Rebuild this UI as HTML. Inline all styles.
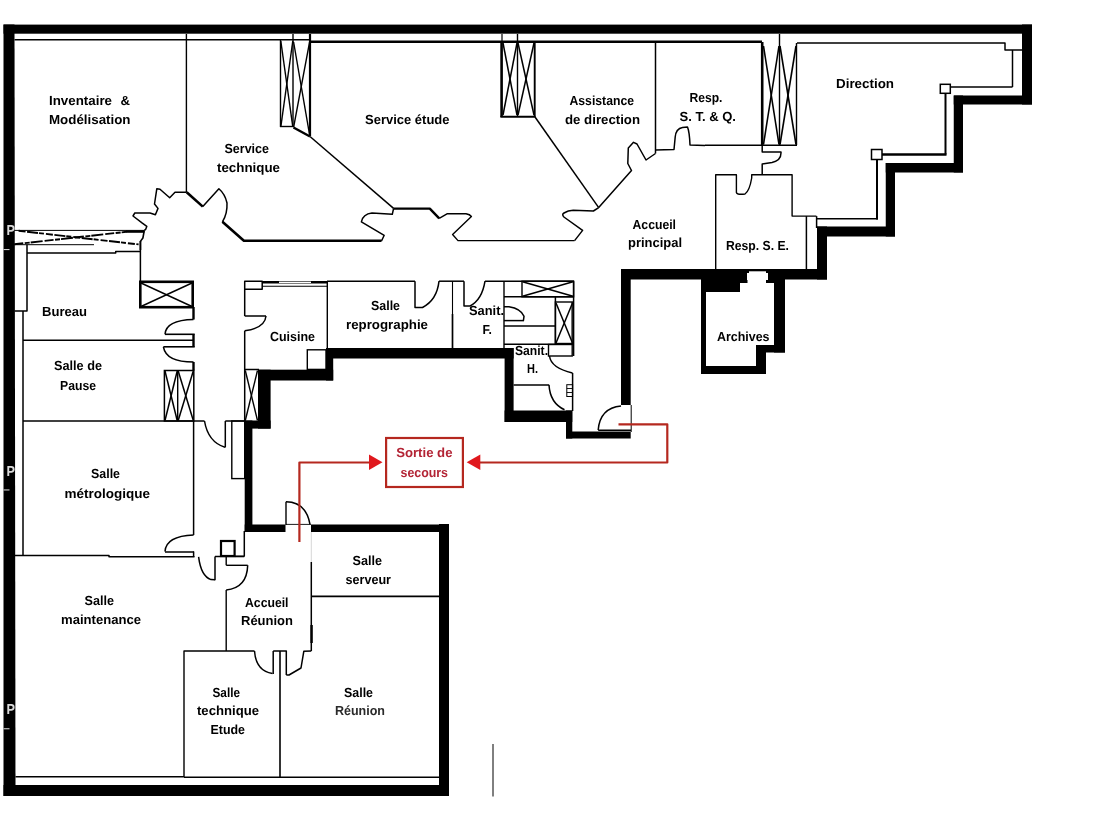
<!DOCTYPE html>
<html><head><meta charset="utf-8"><title>Plan</title>
<style>
html,body{margin:0;padding:0;background:#fff;}
body{width:1119px;height:839px;overflow:hidden;font-family:"Liberation Sans",sans-serif;}
svg{display:block;will-change:transform;}
</style></head><body>
<svg width="1119" height="839" viewBox="0 0 1119 839">
<g id="walls">
<polygon points="3.5,24.5 14.5,24.5 15.5,796 3.5,796" fill="#000"/>
<rect x="3.5" y="24.6" width="1028.5" height="9.1" fill="#000"/>
<rect x="3.5" y="785" width="445.5" height="11" fill="#000"/>
<rect x="439" y="524" width="10" height="272" fill="#000"/>
<rect x="244.7" y="524.5" width="40.8" height="7.5" fill="#000"/>
<rect x="311" y="524.5" width="138" height="7.5" fill="#000"/>
<rect x="244.7" y="420.5" width="7.7" height="111.5" fill="#000"/>
<rect x="244.7" y="420.5" width="25.9" height="8.1" fill="#000"/>
<rect x="258" y="369.7" width="12.6" height="58.9" fill="#000"/>
<rect x="258" y="369.7" width="75.2" height="10.8" fill="#000"/>
<rect x="326" y="348" width="7.2" height="32.5" fill="#000"/>
<rect x="326" y="348" width="187.6" height="10.5" fill="#000"/>
<rect x="504.6" y="348" width="9.0" height="74" fill="#000"/>
<rect x="504.6" y="410.5" width="67.7" height="11.5" fill="#000"/>
<rect x="566" y="410.5" width="6.3" height="28.0" fill="#000"/>
<rect x="566" y="431.5" width="64.7" height="7.0" fill="#000"/>
<rect x="621" y="269" width="9.7" height="136" fill="#000"/>
<rect x="621" y="269" width="206" height="10.5" fill="#000"/>
<rect x="817" y="226.5" width="10" height="53.0" fill="#000"/>
<rect x="817" y="226.5" width="78" height="10.0" fill="#000"/>
<rect x="885.75" y="163" width="9.25" height="73.5" fill="#000"/>
<rect x="885.75" y="163" width="77.25" height="9.5" fill="#000"/>
<rect x="953.75" y="95.5" width="9.25" height="77.0" fill="#000"/>
<rect x="953.75" y="95.5" width="78.25" height="9.0" fill="#000"/>
<rect x="1022" y="24.5" width="10" height="80.0" fill="#000"/>
<rect x="701" y="279" width="39" height="13" fill="#000"/>
<rect x="740" y="279" width="7.5" height="4" fill="#000"/>
<rect x="701" y="279" width="5" height="95" fill="#000"/>
<rect x="701" y="366" width="65" height="8" fill="#000"/>
<rect x="756" y="345" width="10" height="29" fill="#000"/>
<rect x="756" y="345" width="29" height="7.5" fill="#000"/>
<rect x="774" y="279" width="11" height="73.5" fill="#000"/>
<rect x="766" y="279" width="8" height="4" fill="#000"/>
<rect x="749" y="271.3" width="17" height="8.7" fill="#fff"/>
<rect x="747" y="273" width="21" height="7" fill="#fff"/>
</g>
<g id="thin">
<line x1="14.5" y1="39.8" x2="310" y2="39.8" stroke="#000" stroke-width="1.6"/>
<line x1="310" y1="41.7" x2="762" y2="41.7" stroke="#000" stroke-width="2.5"/>
<polyline points="797,43 1005,43 1005,50 1022,50" fill="none" stroke="#000" stroke-width="1.5" stroke-linejoin="round" />
<line x1="1012.5" y1="50" x2="1012.5" y2="87" stroke="#000" stroke-width="1.5"/>
<line x1="950" y1="87" x2="1012.5" y2="87" stroke="#000" stroke-width="1.5"/>
<rect x="940.3" y="84.3" width="10" height="9" fill="#fff" stroke="#000" stroke-width="1.5"/>
<line x1="945.5" y1="93" x2="945.5" y2="154.5" stroke="#000" stroke-width="2"/>
<line x1="882" y1="154.5" x2="946.5" y2="154.5" stroke="#000" stroke-width="2.4"/>
<rect x="871.5" y="149.5" width="10.5" height="10" fill="#fff" stroke="#000" stroke-width="1.5"/>
<line x1="877" y1="159.5" x2="877" y2="219.6" stroke="#000" stroke-width="2"/>
<line x1="816.4" y1="218.8" x2="878" y2="218.8" stroke="#000" stroke-width="1.4"/>
<line x1="186.4" y1="34" x2="186.4" y2="192.3" stroke="#000" stroke-width="1.4"/>
<line x1="280.5" y1="40" x2="280.5" y2="127" stroke="#000" stroke-width="1.4"/>
<line x1="293" y1="34" x2="293" y2="127" stroke="#000" stroke-width="1.4"/>
<line x1="310" y1="34" x2="310" y2="136" stroke="#000" stroke-width="2.2"/>
<line x1="280" y1="126.5" x2="293" y2="126.5" stroke="#000" stroke-width="1.4"/>
<line x1="280.8" y1="41" x2="292.8" y2="126.8" stroke="#000" stroke-width="1.4"/>
<line x1="292.8" y1="41" x2="280.8" y2="126.8" stroke="#000" stroke-width="1.4"/>
<line x1="293.6" y1="42" x2="309.6" y2="135" stroke="#000" stroke-width="1.4"/>
<line x1="309.6" y1="42" x2="293.6" y2="127.3" stroke="#000" stroke-width="1.4"/>
<polyline points="293.5,127.5 310,136.5" fill="none" stroke="#000" stroke-width="2.4" stroke-linejoin="round" />
<polyline points="310,136.5 393.6,208.4" fill="none" stroke="#000" stroke-width="1.5" stroke-linejoin="round" />
<line x1="501.6" y1="41.7" x2="501.6" y2="117" stroke="#000" stroke-width="2.6"/>
<line x1="502" y1="34" x2="502" y2="41" stroke="#000" stroke-width="1.2"/>
<line x1="517.5" y1="34" x2="517.5" y2="116" stroke="#000" stroke-width="1.4"/>
<line x1="534.7" y1="41.7" x2="534.7" y2="117" stroke="#000" stroke-width="1.9"/>
<line x1="500.4" y1="116.7" x2="535.5" y2="116.7" stroke="#000" stroke-width="2.0"/>
<line x1="503" y1="43" x2="517" y2="115" stroke="#000" stroke-width="1.5"/>
<line x1="517" y1="43" x2="503" y2="115" stroke="#000" stroke-width="1.5"/>
<line x1="518" y1="43" x2="534" y2="115" stroke="#000" stroke-width="1.5"/>
<line x1="534" y1="43" x2="518" y2="115" stroke="#000" stroke-width="1.5"/>
<polyline points="535,117 598.7,207.6" fill="none" stroke="#000" stroke-width="1.5" stroke-linejoin="round" />
<line x1="762.2" y1="42" x2="762.2" y2="145.5" stroke="#000" stroke-width="2.6"/>
<line x1="779.5" y1="34" x2="779.5" y2="145" stroke="#000" stroke-width="1.4"/>
<line x1="796.5" y1="43" x2="796.5" y2="145" stroke="#000" stroke-width="1.4"/>
<line x1="763.5" y1="46" x2="779" y2="144.5" stroke="#000" stroke-width="1.6"/>
<line x1="779" y1="46" x2="763.5" y2="144.5" stroke="#000" stroke-width="1.6"/>
<line x1="780" y1="46" x2="796" y2="144.5" stroke="#000" stroke-width="1.6"/>
<line x1="796" y1="46" x2="780" y2="144.5" stroke="#000" stroke-width="1.6"/>
<line x1="705" y1="145.2" x2="797" y2="145.2" stroke="#000" stroke-width="1.4"/>
<line x1="655.5" y1="43" x2="655.5" y2="153.5" stroke="#000" stroke-width="1.5"/>
<path d="M655.5,150 L674,149.5 L675.2,137 Q676,128.5 682.5,127.5 L687.5,127 Q689.5,132 690,145 L705,145.5" fill="none" stroke="#000" stroke-width="1.5" stroke-linejoin="round"/>
<polyline points="598.7,207.6 631.5,170.5 627.8,163.5 628.3,148 633.5,142.3 637,144 646,160 655.5,153.5" fill="none" stroke="#000" stroke-width="1.5" stroke-linejoin="round" />
<path d="M762.2,145 L762.2,152 L781,152 Q781.5,160.5 772,162.5 L762.2,164 L762.2,174.7" fill="none" stroke="#000" stroke-width="1.5" stroke-linejoin="round"/>
<path d="M715.7,269 L715.7,174.7 L736.4,174.7 L736.4,192.5 Q737,195 745,194 Q749.5,191 751.7,178 L751.7,174.7 L792.1,174.7 L792.1,216.1 L816.4,216.1" fill="none" stroke="#000" stroke-width="1.4" stroke-linejoin="round"/>
<line x1="806.4" y1="216.1" x2="806.4" y2="269" stroke="#000" stroke-width="1.5"/>
<line x1="816.6" y1="216.1" x2="816.6" y2="228" stroke="#000" stroke-width="1.5"/>
<polyline points="144.3,230.4 145.7,229.3 146.8,226.4 142,222.9 133,216 134.8,213 150,213 155.4,214.7 158,208.4 154.5,204 156.8,188.8 160,189.3 169.7,197.7 175,192.3 186.7,192.3" fill="none" stroke="#000" stroke-width="1.5" stroke-linejoin="round" />
<polyline points="186.7,192.3 202.8,206.6" fill="none" stroke="#000" stroke-width="2.6" stroke-linejoin="round" />
<path d="M202.8,206.6 L218.9,188.8 Q225,194 227,203 Q227.5,214 222.4,221.8" fill="none" stroke="#000" stroke-width="1.5" stroke-linejoin="round"/>
<polyline points="222.4,221.8 243.9,240.8 381.5,240.8" fill="none" stroke="#000" stroke-width="2.6" stroke-linejoin="round" />
<path d="M381.5,241 L384.2,235.3 L361.4,221.8 Q363,214 372,213 L392.3,214.3 L393.6,208.4" fill="none" stroke="#000" stroke-width="1.5" stroke-linejoin="round"/>
<polyline points="393.6,208.6 429.8,208.6 439.2,218.4" fill="none" stroke="#000" stroke-width="2.4" stroke-linejoin="round" />
<path d="M439.2,218.4 L447,213.8 L466,213.8 Q470,214.5 471.4,216.5 L452.6,234.5 L458,240.6 L574.6,240.6" fill="none" stroke="#000" stroke-width="1.4" stroke-linejoin="round"/>
<path d="M574.6,240.6 L582.6,230.4 L563.9,217 Q561.5,214.5 564,213 Q568,210.5 573.2,210.3 L593.4,211 L598.7,207.6" fill="none" stroke="#000" stroke-width="1.5" stroke-linejoin="round"/>
<line x1="14.3" y1="230.4" x2="144.3" y2="230.4" stroke="#000" stroke-width="1.0"/>
<line x1="14.3" y1="244.3" x2="126.4" y2="231.8" stroke="#000" stroke-width="1.9" stroke-dasharray="9 1.5 5 1 12 2"/>
<line x1="126" y1="231.6" x2="144.3" y2="231.6" stroke="#000" stroke-width="2.4"/>
<line x1="18.6" y1="230.8" x2="138.6" y2="244.4" stroke="#000" stroke-width="1.9" stroke-dasharray="7 1.5 11 1 5 2"/>
<line x1="14.3" y1="244.7" x2="94" y2="244.7" stroke="#000" stroke-width="1.0"/>
<polyline points="27,253 115.7,253 115.7,251.5 140.4,251.5" fill="none" stroke="#000" stroke-width="1.5" stroke-linejoin="round" />
<polyline points="144.3,230.4 142.9,238 140.4,241.4" fill="none" stroke="#000" stroke-width="1.6" stroke-linejoin="round" />
<line x1="140.4" y1="241" x2="140.4" y2="250" stroke="#000" stroke-width="2.0"/>
<line x1="140.4" y1="250" x2="140.4" y2="281" stroke="#000" stroke-width="1.5"/>
<polyline points="27,244.7 27,311 14.5,311" fill="none" stroke="#000" stroke-width="1.5" stroke-linejoin="round" />
<line x1="23" y1="311" x2="23" y2="555.8" stroke="#000" stroke-width="1.5"/>
<rect x="140.3" y="281.8" width="52.4" height="25.4" fill="none" stroke="#000" stroke-width="2.6"/>
<line x1="141" y1="283" x2="192" y2="306.5" stroke="#000" stroke-width="1.4"/>
<line x1="192" y1="283" x2="141" y2="306.5" stroke="#000" stroke-width="1.4"/>
<line x1="193.5" y1="307" x2="193.5" y2="319.5" stroke="#000" stroke-width="2.4"/>
<path d="M193.5,319.5 Q166,320 165,334.3" fill="none" stroke="#000" stroke-width="1.5" stroke-linejoin="round"/>
<line x1="165" y1="334.3" x2="194.7" y2="334.3" stroke="#000" stroke-width="1.6"/>
<line x1="193.5" y1="334.3" x2="193.5" y2="346.8" stroke="#000" stroke-width="2.4"/>
<line x1="23" y1="340.3" x2="193.5" y2="340.3" stroke="#000" stroke-width="1.4"/>
<line x1="163.4" y1="346.8" x2="194.7" y2="346.8" stroke="#000" stroke-width="1.6"/>
<path d="M163.4,346.8 Q166,362 193.5,362" fill="none" stroke="#000" stroke-width="1.5" stroke-linejoin="round"/>
<line x1="193.5" y1="362" x2="193.5" y2="370.5" stroke="#000" stroke-width="2.4"/>
<rect x="164.4" y="370.5" width="29.4" height="50.5" fill="none" stroke="#000" stroke-width="1.5"/>
<line x1="177.7" y1="370.5" x2="177.7" y2="421" stroke="#000" stroke-width="1.4"/>
<line x1="165" y1="371" x2="177.2" y2="420.5" stroke="#000" stroke-width="1.5"/>
<line x1="177.2" y1="371" x2="165" y2="420.5" stroke="#000" stroke-width="1.5"/>
<line x1="178.2" y1="371" x2="193.3" y2="420.5" stroke="#000" stroke-width="1.5"/>
<line x1="193.3" y1="371" x2="178.2" y2="420.5" stroke="#000" stroke-width="1.5"/>
<line x1="23" y1="421" x2="204.5" y2="421" stroke="#000" stroke-width="1.4"/>
<path d="M204.5,421 Q208,442 225,447.3" fill="none" stroke="#000" stroke-width="1.5" stroke-linejoin="round"/>
<line x1="225.3" y1="421" x2="225.3" y2="447.5" stroke="#000" stroke-width="1.5"/>
<line x1="225.3" y1="421" x2="244.7" y2="421" stroke="#000" stroke-width="1.5"/>
<rect x="231.8" y="421" width="12.9" height="57.6" fill="none" stroke="#000" stroke-width="1.4"/>
<line x1="193.6" y1="421" x2="193.6" y2="535" stroke="#000" stroke-width="1.5"/>
<path d="M193.6,535 Q166,536 165,551.5" fill="none" stroke="#000" stroke-width="1.5" stroke-linejoin="round"/>
<line x1="165" y1="552" x2="194" y2="552" stroke="#000" stroke-width="1.5"/>
<polyline points="14.5,555.6 109,555.6 109,556.8 194.5,556.8" fill="none" stroke="#000" stroke-width="1.5" stroke-linejoin="round" />
<path d="M198.6,556.8 Q201,576 211,579.6 L215,579.8" fill="none" stroke="#000" stroke-width="1.5" stroke-linejoin="round"/>
<line x1="215" y1="556.5" x2="244.3" y2="556.5" stroke="#000" stroke-width="1.5"/>
<line x1="193.6" y1="551.5" x2="193.6" y2="557" stroke="#000" stroke-width="1.5"/>
<line x1="215" y1="556.5" x2="215" y2="580.3" stroke="#000" stroke-width="1.5"/>
<rect x="221" y="541" width="13.6" height="15" fill="none" stroke="#000" stroke-width="2.2"/>
<line x1="244.3" y1="531" x2="244.3" y2="556.5" stroke="#000" stroke-width="1.5"/>
<line x1="234.6" y1="556.3" x2="244.3" y2="556.3" stroke="#000" stroke-width="1.5"/>
<line x1="226.2" y1="556" x2="226.2" y2="565.3" stroke="#000" stroke-width="1.4"/>
<line x1="226.2" y1="565.3" x2="247.7" y2="565.3" stroke="#000" stroke-width="1.4"/>
<path d="M247.7,565.3 Q247,588 226.2,590" fill="none" stroke="#000" stroke-width="1.5" stroke-linejoin="round"/>
<line x1="226.2" y1="590" x2="226.2" y2="651" stroke="#000" stroke-width="1.4"/>
<polyline points="244.7,316 244.7,281.2 262.2,281.2 262.2,289.3 244.7,289.3" fill="none" stroke="#000" stroke-width="1.5" stroke-linejoin="round" />
<line x1="262" y1="282.3" x2="327.3" y2="282.3" stroke="#000" stroke-width="2.6"/>
<line x1="262" y1="286.2" x2="327.3" y2="286.2" stroke="#000" stroke-width="1.1"/>
<line x1="279" y1="282.3" x2="311" y2="282.3" stroke="#fff" stroke-width="1.4"/>
<line x1="327.3" y1="281" x2="327.3" y2="348.6" stroke="#000" stroke-width="1.4"/>
<line x1="244.7" y1="316" x2="266" y2="316" stroke="#000" stroke-width="1.5"/>
<path d="M266,316 Q265,328 244.7,330.8" fill="none" stroke="#000" stroke-width="1.5" stroke-linejoin="round"/>
<line x1="244.7" y1="330.8" x2="244.7" y2="421" stroke="#000" stroke-width="1.5"/>
<line x1="244.7" y1="369.5" x2="259" y2="369.5" stroke="#000" stroke-width="1.5"/>
<rect x="307.3" y="349.8" width="18.7" height="19.6" fill="none" stroke="#000" stroke-width="1.4"/>
<line x1="245.3" y1="370.5" x2="257.5" y2="420.5" stroke="#000" stroke-width="1.4"/>
<line x1="257.5" y1="370.5" x2="245.3" y2="420.5" stroke="#000" stroke-width="1.4"/>
<line x1="327" y1="281.2" x2="415" y2="281.2" stroke="#000" stroke-width="1.5"/>
<path d="M415,281.2 L415,307.5 L422.5,307.5 Q437,300 439,281.2" fill="none" stroke="#000" stroke-width="1.5" stroke-linejoin="round"/>
<line x1="439" y1="281.2" x2="464" y2="281.2" stroke="#000" stroke-width="1.5"/>
<line x1="452.5" y1="281.2" x2="452.5" y2="314" stroke="#000" stroke-width="1.1"/>
<line x1="452.5" y1="314" x2="452.5" y2="348" stroke="#000" stroke-width="1.7"/>
<path d="M464,281.2 L464,306 L470,306 Q482,300 485,281.2" fill="none" stroke="#000" stroke-width="1.5" stroke-linejoin="round"/>
<line x1="485" y1="281.2" x2="574" y2="281.2" stroke="#000" stroke-width="1.5"/>
<line x1="504" y1="281.2" x2="504" y2="348" stroke="#000" stroke-width="1.4"/>
<rect x="522" y="281.2" width="51.6" height="15.6" fill="none" stroke="#000" stroke-width="1.4"/>
<line x1="522.5" y1="281.8" x2="573" y2="296.3" stroke="#000" stroke-width="1.5"/>
<line x1="573" y1="281.8" x2="522.5" y2="296.3" stroke="#000" stroke-width="1.5"/>
<line x1="504" y1="296.8" x2="573.6" y2="296.8" stroke="#000" stroke-width="1.5"/>
<line x1="573.6" y1="281.2" x2="573.6" y2="356" stroke="#000" stroke-width="1.5"/>
<line x1="572" y1="302" x2="572" y2="343" stroke="#000" stroke-width="1.1"/>
<rect x="555.4" y="302" width="17.6" height="41.5" fill="none" stroke="#000" stroke-width="1.4"/>
<line x1="556" y1="303" x2="572.5" y2="343" stroke="#000" stroke-width="1.5"/>
<line x1="572.5" y1="303" x2="556" y2="343" stroke="#000" stroke-width="1.5"/>
<path d="M504,306.7 L509,306.7 Q521,308.5 524,316.3 L523.4,320.6" fill="none" stroke="#000" stroke-width="1.5" stroke-linejoin="round"/>
<line x1="504" y1="320.6" x2="524" y2="320.6" stroke="#000" stroke-width="1.5"/>
<line x1="504" y1="326" x2="555.4" y2="326" stroke="#000" stroke-width="1.5"/>
<line x1="504" y1="344.3" x2="573.6" y2="344.3" stroke="#000" stroke-width="1.4"/>
<line x1="555.4" y1="297" x2="555.4" y2="344" stroke="#000" stroke-width="1.5"/>
<rect x="548.5" y="344.5" width="23.7" height="11.5" fill="none" stroke="#000" stroke-width="1.4"/>
<path d="M549.5,356 Q551,368 572.5,373" fill="none" stroke="#000" stroke-width="1.5" stroke-linejoin="round"/>
<line x1="572.6" y1="373" x2="572.6" y2="411" stroke="#000" stroke-width="1.5"/>
<rect x="566.8" y="384.7" width="5.8" height="11.8" fill="none" stroke="#000" stroke-width="1.0"/>
<line x1="566.8" y1="388.5" x2="572.6" y2="388.5" stroke="#000" stroke-width="0.9"/>
<line x1="566.8" y1="392.5" x2="572.6" y2="392.5" stroke="#000" stroke-width="0.9"/>
<line x1="513.6" y1="384.9" x2="549" y2="384.9" stroke="#000" stroke-width="1.5"/>
<path d="M549,384.9 Q550,403 564.5,409.8" fill="none" stroke="#000" stroke-width="1.5" stroke-linejoin="round"/>
<path d="M621,406 Q600,408 598.2,430" fill="none" stroke="#000" stroke-width="1.5" stroke-linejoin="round"/>
<line x1="598.2" y1="430.3" x2="631" y2="430.3" stroke="#000" stroke-width="1.5"/>
<line x1="631.2" y1="405" x2="631.2" y2="432" stroke="#000" stroke-width="1.0"/>
<line x1="286" y1="501.8" x2="286" y2="525" stroke="#000" stroke-width="1.4"/>
<path d="M286,501.8 Q306,502 310,524.3" fill="none" stroke="#000" stroke-width="1.5" stroke-linejoin="round"/>
<line x1="286" y1="524.4" x2="311" y2="524.4" stroke="#000" stroke-width="0.9"/>
<line x1="311.3" y1="562" x2="311.3" y2="651" stroke="#000" stroke-width="1.5"/>
<line x1="311.6" y1="625" x2="311.6" y2="643" stroke="#000" stroke-width="2.4"/>
<line x1="311.3" y1="532" x2="311.3" y2="562" stroke="#aaa" stroke-width="0.5"/>
<line x1="311" y1="596.3" x2="439" y2="596.3" stroke="#000" stroke-width="1.7"/>
<polyline points="184,777 184,651 254.5,651" fill="none" stroke="#000" stroke-width="1.4" stroke-linejoin="round" />
<path d="M254.5,651 Q256,671 272.5,673.5" fill="none" stroke="#000" stroke-width="1.5" stroke-linejoin="round"/>
<line x1="273.2" y1="651" x2="273.2" y2="674" stroke="#000" stroke-width="1.5"/>
<polyline points="273.2,651 286.3,651 286.3,675" fill="none" stroke="#000" stroke-width="1.5" stroke-linejoin="round" />
<line x1="280" y1="651" x2="280" y2="777" stroke="#000" stroke-width="1.6"/>
<path d="M311.3,651 L303.8,651.3 L301,668 L289,675 L286.3,675" fill="none" stroke="#000" stroke-width="1.5" stroke-linejoin="round"/>
<line x1="15.5" y1="776.7" x2="184" y2="776.7" stroke="#000" stroke-width="1.6"/>
<line x1="184" y1="777.3" x2="439" y2="777.3" stroke="#000" stroke-width="1.4"/>
<line x1="493" y1="744" x2="493" y2="796.5" stroke="#000" stroke-width="1.0"/>
</g>
<g id="wm" font-family="'Liberation Sans', sans-serif" font-weight="bold" font-size="14" fill="#d9d9d9">
<text x="6.6" y="235.2" textLength="8.5" lengthAdjust="spacingAndGlyphs">P</text>
<rect x="3.5" y="249.0" width="6" height="1.1" fill="#d0d0d0"/>
<text x="6.6" y="475.6" textLength="8.5" lengthAdjust="spacingAndGlyphs">P</text>
<rect x="3.5" y="489.40000000000003" width="6" height="1.1" fill="#d0d0d0"/>
<text x="6.6" y="714.4" textLength="8.5" lengthAdjust="spacingAndGlyphs">P</text>
<rect x="3.5" y="728.1999999999999" width="6" height="1.1" fill="#d0d0d0"/>
</g>
<g id="red">
<rect x="386.1" y="438" width="76.8" height="49" fill="#fff" stroke="#b5281f" stroke-width="2.2"/>
<polyline points="299.4,542 299.4,462.5 371,462.5" fill="none" stroke="#b5281f" stroke-width="2.2" stroke-linejoin="round" />
<polygon points="369,454.5 382.5,462.3 369,470" fill="#e0181d"/>
<polyline points="618.5,424.3 667.3,424.3 667.3,462.5 479,462.5" fill="none" stroke="#b5281f" stroke-width="2.2" stroke-linejoin="round" />
<polygon points="480.3,454.5 466.7,462.3 480.3,470" fill="#e0181d"/>
</g>
<g id="text" font-family="'Liberation Sans', sans-serif" font-weight="bold" text-rendering="geometricPrecision">
<text x="49" y="105" font-size="13.2" fill="#000" textLength="63" lengthAdjust="spacingAndGlyphs" opacity="1">Inventaire</text>
<text x="120.5" y="105" font-size="13.2" fill="#000" textLength="9.5" lengthAdjust="spacingAndGlyphs" opacity="1">&amp;</text>
<text x="49" y="124" font-size="13.2" fill="#000" textLength="81.5" lengthAdjust="spacingAndGlyphs" opacity="1">Modélisation</text>
<text x="224.5" y="153" font-size="13.2" fill="#000" textLength="44.5" lengthAdjust="spacingAndGlyphs" opacity="1">Service</text>
<text x="217" y="172" font-size="13.2" fill="#000" textLength="63" lengthAdjust="spacingAndGlyphs" opacity="1">technique</text>
<text x="365" y="124" font-size="13.2" fill="#000" textLength="84.5" lengthAdjust="spacingAndGlyphs" opacity="1">Service étude</text>
<text x="569.5" y="104.5" font-size="13.2" fill="#000" textLength="64.5" lengthAdjust="spacingAndGlyphs" opacity="1">Assistance</text>
<text x="565" y="124" font-size="13.2" fill="#000" textLength="75" lengthAdjust="spacingAndGlyphs" opacity="1">de direction</text>
<text x="689.5" y="102" font-size="13.2" fill="#000" textLength="33.0" lengthAdjust="spacingAndGlyphs" opacity="1">Resp.</text>
<text x="679.5" y="121" font-size="13.2" fill="#000" textLength="56.5" lengthAdjust="spacingAndGlyphs" opacity="1">S. T. &amp; Q.</text>
<text x="836" y="87.5" font-size="13.2" fill="#000" textLength="58" lengthAdjust="spacingAndGlyphs" opacity="1">Direction</text>
<text x="632.5" y="229" font-size="13.2" fill="#000" textLength="43.5" lengthAdjust="spacingAndGlyphs" opacity="1">Accueil</text>
<text x="628" y="247" font-size="13.2" fill="#000" textLength="54" lengthAdjust="spacingAndGlyphs" opacity="1">principal</text>
<text x="726" y="250" font-size="13.2" fill="#000" textLength="63" lengthAdjust="spacingAndGlyphs" opacity="1">Resp. S. E.</text>
<text x="717" y="340.5" font-size="13.2" fill="#000" textLength="52.5" lengthAdjust="spacingAndGlyphs" opacity="1">Archives</text>
<text x="42" y="316" font-size="13.2" fill="#000" textLength="45" lengthAdjust="spacingAndGlyphs" opacity="1">Bureau</text>
<text x="54" y="370" font-size="13.2" fill="#000" textLength="48" lengthAdjust="spacingAndGlyphs" opacity="1">Salle de</text>
<text x="60" y="389.5" font-size="13.2" fill="#000" textLength="36" lengthAdjust="spacingAndGlyphs" opacity="1">Pause</text>
<text x="270" y="341" font-size="13.2" fill="#000" textLength="45" lengthAdjust="spacingAndGlyphs" opacity="1">Cuisine</text>
<text x="371" y="310" font-size="13.2" fill="#000" textLength="29" lengthAdjust="spacingAndGlyphs" opacity="1">Salle</text>
<text x="346" y="329" font-size="13.2" fill="#000" textLength="82" lengthAdjust="spacingAndGlyphs" opacity="1">reprographie</text>
<text x="469" y="315" font-size="13.2" fill="#000" textLength="35" lengthAdjust="spacingAndGlyphs" opacity="1">Sanit.</text>
<text x="482.5" y="334" font-size="13.2" fill="#000" textLength="9.5" lengthAdjust="spacingAndGlyphs" opacity="1">F.</text>
<text x="515" y="355" font-size="13.2" fill="#000" textLength="33" lengthAdjust="spacingAndGlyphs" opacity="1">Sanit.</text>
<text x="527" y="373" font-size="13.2" fill="#000" textLength="11" lengthAdjust="spacingAndGlyphs" opacity="1">H.</text>
<text x="91" y="478" font-size="13.2" fill="#000" textLength="29" lengthAdjust="spacingAndGlyphs" opacity="1">Salle</text>
<text x="64.5" y="497.5" font-size="13.2" fill="#000" textLength="85.5" lengthAdjust="spacingAndGlyphs" opacity="1">métrologique</text>
<text x="84.5" y="604.5" font-size="13.2" fill="#000" textLength="29.5" lengthAdjust="spacingAndGlyphs" opacity="1">Salle</text>
<text x="61" y="624" font-size="13.2" fill="#000" textLength="80" lengthAdjust="spacingAndGlyphs" opacity="1">maintenance</text>
<text x="245" y="607" font-size="13.2" fill="#000" textLength="43.5" lengthAdjust="spacingAndGlyphs" opacity="1">Accueil</text>
<text x="241" y="624.5" font-size="13.2" fill="#000" textLength="52" lengthAdjust="spacingAndGlyphs" opacity="1">Réunion</text>
<text x="352.5" y="565" font-size="13.2" fill="#000" textLength="29.5" lengthAdjust="spacingAndGlyphs" opacity="1">Salle</text>
<text x="345.5" y="584" font-size="13.2" fill="#000" textLength="45.5" lengthAdjust="spacingAndGlyphs" opacity="1">serveur</text>
<text x="212.5" y="697" font-size="13.2" fill="#000" textLength="27.5" lengthAdjust="spacingAndGlyphs" opacity="1">Salle</text>
<text x="197" y="715" font-size="13.2" fill="#000" textLength="62" lengthAdjust="spacingAndGlyphs" opacity="1">technique</text>
<text x="210.5" y="734" font-size="13.2" fill="#000" textLength="34.5" lengthAdjust="spacingAndGlyphs" opacity="1">Etude</text>
<text x="344" y="697" font-size="13.2" fill="#000" textLength="29" lengthAdjust="spacingAndGlyphs" opacity="1">Salle</text>
<text x="335" y="715" font-size="13.2" fill="#2a2a2a" textLength="50" lengthAdjust="spacingAndGlyphs" opacity="1">Réunion</text>
<text x="396.2" y="457" font-size="13.2" fill="#b32435" textLength="56.3" lengthAdjust="spacingAndGlyphs" opacity="1">Sortie de</text>
<text x="400.5" y="476.5" font-size="13.2" fill="#b32435" textLength="47.5" lengthAdjust="spacingAndGlyphs" opacity="1">secours</text>
</g>
</svg>
</body></html>
